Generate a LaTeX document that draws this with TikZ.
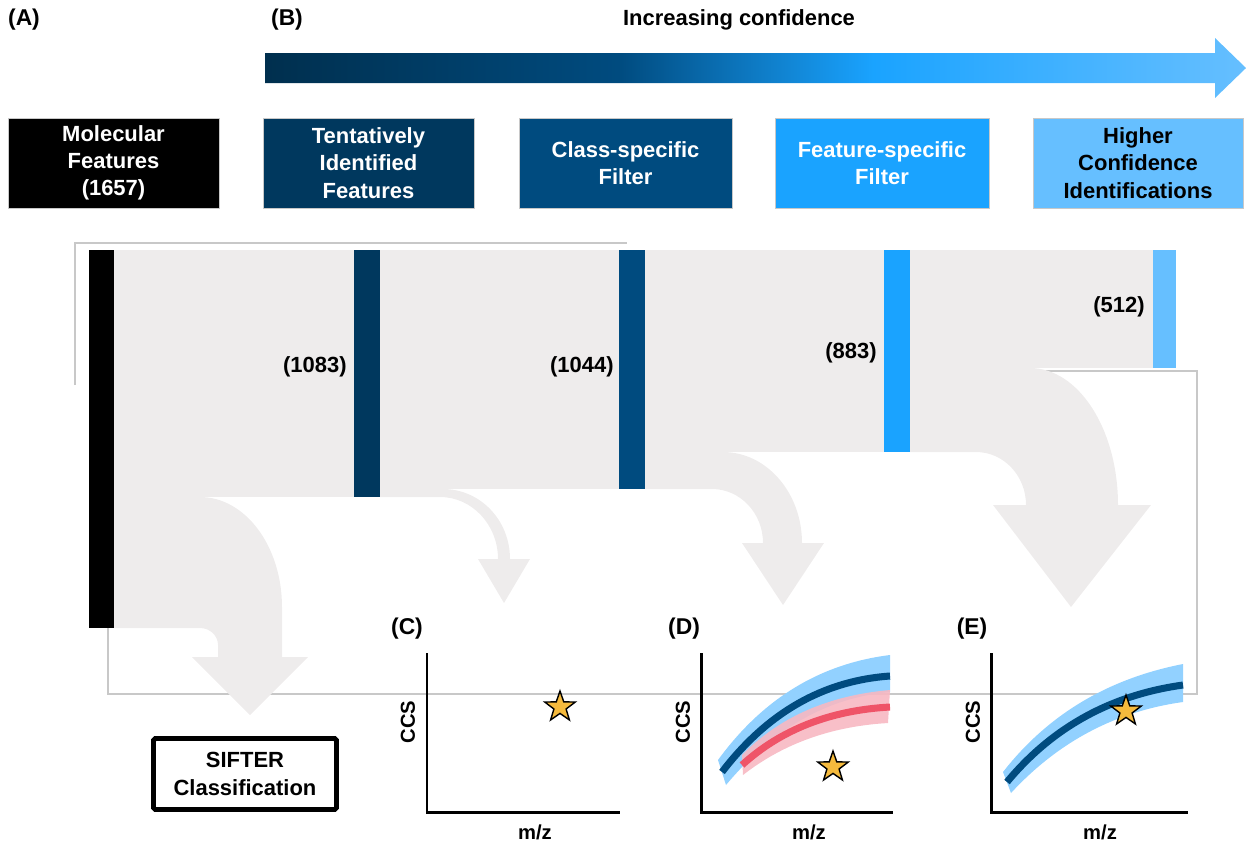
\documentclass[tikz,border=0pt]{standalone}
\usepackage{fontspec}
\setmainfont{Liberation Sans}
\usetikzlibrary{shapes.geometric}
\definecolor{gA}{HTML}{002F4E}
\definecolor{navyA}{HTML}{00385E}
\definecolor{navyB}{HTML}{004B7F}
\definecolor{blueC}{HTML}{1AA3FF}
\definecolor{blueD}{HTML}{66BFFF}
\definecolor{flowgray}{HTML}{EEECEC}
\definecolor{framegray}{HTML}{C8C8C8}
\definecolor{bandblue}{HTML}{92D1FF}
\definecolor{bandpink}{HTML}{F7B8C2}
\definecolor{redline}{HTML}{EF5468}
\definecolor{staryellow}{HTML}{F5BA3D}
\pgfdeclarehorizontalshading{confshade}{100bp}{color(0bp)=(gA); color(25bp)=(gA); color(43bp)=(navyB); color(56bp)=(blueC); color(75bp)=(blueD); color(100bp)=(blueD)}
\begin{document}
\begin{tikzpicture}[x=0.02cm,y=-0.02cm,
  txt/.style={font=\bfseries\fontsize{12.5}{15.5}\selectfont, inner sep=0pt},
  box/.style={txt, align=center, minimum height=1.8cm, draw=framegray, line width=0.4pt},
  lbl/.style={txt},
  frame/.style={draw=framegray, line width=0.6pt},
  axisline/.style={line width=1.7pt, line join=miter},
  starnode/.style={star, star points=5, star point ratio=2.5, draw=black, fill=staryellow, line width=0.8pt, minimum size=0.64cm, inner sep=0pt},
  axlab/.style={font=\bfseries\fontsize{11.5}{13}\selectfont, inner sep=0pt},
  panel/.style={font=\bfseries\fontsize{13}{15}\selectfont, inner sep=0pt}
]
\useasboundingbox (0,0) rectangle (1247,843);

% header
\node[panel] (lA) at (24,20) {(A)};
\node[panel] (lB) at (287,20) {(B)};
\node[txt] (inc) at (739,20) {Increasing confidence};
\shade[shading=confshade] (265,53) -- (1215,53) -- (1215,38) -- (1246,68) -- (1215,98) -- (1215,83) -- (265,83) -- cycle;

% boxes
\node[box, fill=black, text=white, minimum width=4.22cm] (mf) at (113.5,163) {Molecular\\Features\\(1657)};
\node[box, fill=navyA, text=white, minimum width=4.22cm] (tif) at (368.5,163) {Tentatively\\Identified\\Features};
\node[box, fill=navyB, text=white, minimum width=4.26cm] (csf) at (625.5,163) {Class-specific\\Filter};
\node[box, fill=blueC, text=white, minimum width=4.28cm] (fsf) at (882,163) {Feature-specific\\Filter};
\node[box, fill=blueD, text=black, minimum width=4.2cm] (hci) at (1138,163) {Higher\\Confidence\\Identifications};

% frame lines
\draw[frame] (75,385) -- (75,243) -- (627,243);
\draw[frame] (108,628) -- (108,694) -- (1197,694) -- (1197,371) -- (1026,371);

% flows
\fill[flowgray] (114,250) rectangle (354,497);
\fill[flowgray] (380,250) rectangle (619,489);
\fill[flowgray] (645,250) rectangle (884,452);
\fill[flowgray] (910,250) rectangle (1153,368);

% discard arrows
\fill[flowgray] (114,497) -- (200,497) .. controls (245.3,497) and (282,546.3) .. (282,607) -- (282,657) -- (308,657) -- (250,715) -- (192,657) -- (218,657) -- (218,645) .. controls (218,635.6) and (209.9,628) .. (200,628) -- (114,628) -- cycle;
\fill[flowgray] (380,489) -- (443,489) .. controls (480,489) and (510,519.9) .. (510,559) -- (530,559) -- (504,603) -- (478,559) -- (498,559) .. controls (498,524.8) and (472,497) .. (440,497) -- (380,497) -- cycle;
\fill[flowgray] (645,452) -- (723,452) .. controls (766.6,452) and (802,492.8) .. (802,543) -- (824,543) -- (783,605) -- (742,543) -- (763,543) .. controls (763,513.2) and (740.2,489) .. (712,489) -- (645,489) -- cycle;
\fill[flowgray] (910,368) -- (1030,368) .. controls (1078.6,368) and (1118,429.4) .. (1118,505) -- (1151,505) -- (1071,607) -- (993,505) -- (1026,505) .. controls (1026,475.7) and (1003.6,452) .. (976,452) -- (910,452) -- cycle;

% bars
\fill[black] (89,250) rectangle (114,628);
\fill[navyA] (354,250) rectangle (380,497);
\fill[navyB] (619,250) rectangle (645,489);
\fill[blueC] (884,250) rectangle (910,452);
\fill[blueD] (1153,250) rectangle (1176,368);

% counts
\node[lbl, anchor=east] (c1083) at (347,367) {(1083)};
\node[lbl, anchor=east] (c1044) at (614,367) {(1044)};
\node[lbl, anchor=east] (c883) at (877,353) {(883)};
\node[lbl, anchor=east] (c512) at (1145,307) {(512)};

% SIFTER
\node[txt, align=center, draw=black, line width=2.8pt, rounded corners=1pt, minimum width=3.66cm, minimum height=1.42cm] (sifter) at (245,774) {SIFTER\\Classification};

% plot C
\node[panel] (lC) at (407,629) {(C)};
\draw[axisline] (427,653) -- (427,812) -- (620,812);
\node[axlab, rotate=90] (ccsC) at (408,722) {CCS};
\node[axlab] (mzC) at (535,832) {m/z};
\node[starnode] (sC) at (560,707) {};

% plot D
\node[panel] (lD) at (684,629) {(D)};
\fill[bandblue] (718,760) .. controls (762.7,698.7) and (820,663.7) .. (890,655) -- (890,692) .. controls (828,697.3) and (773.3,728.3) .. (726,785) -- cycle;
\fill[bandpink, opacity=0.9] (742,755) .. controls (779.3,717) and (828.7,695.3) .. (890,690) -- (888,723) .. controls (831.3,726.3) and (783,743.7) .. (743,775) -- cycle;
\draw[navyB, line width=4pt] (722,772) .. controls (767.3,712.7) and (823.3,680.7) .. (890,676);
\draw[redline, line width=4pt] (742,765) .. controls (780.7,729.7) and (830,710.3) .. (890,707);
\draw[axisline] (701,653) -- (701,812) -- (893,812);
\node[axlab, rotate=90] (ccsD) at (683,722) {CCS};
\node[axlab] (mzD) at (809,832) {m/z};
\node[starnode] (sD) at (833,767) {};

% plot E
\node[panel] (lE) at (972,629) {(E)};
\fill[bandblue] (1003,772) .. controls (1047.7,714.7) and (1107.7,678.7) .. (1183,664) -- (1183,702) .. controls (1115.7,711.3) and (1058.3,741.7) .. (1011,793) -- cycle;
\draw[navyB, line width=4pt] (1007,782) .. controls (1052.3,727.3) and (1111,695) .. (1183,685);
\draw[axisline] (991,653) -- (991,812) -- (1188,812);
\node[axlab, rotate=90] (ccsE) at (973,722) {CCS};
\node[axlab] (mzE) at (1100,832) {m/z};
\node[starnode] (sE) at (1126,711) {};
\end{tikzpicture}
\end{document}
